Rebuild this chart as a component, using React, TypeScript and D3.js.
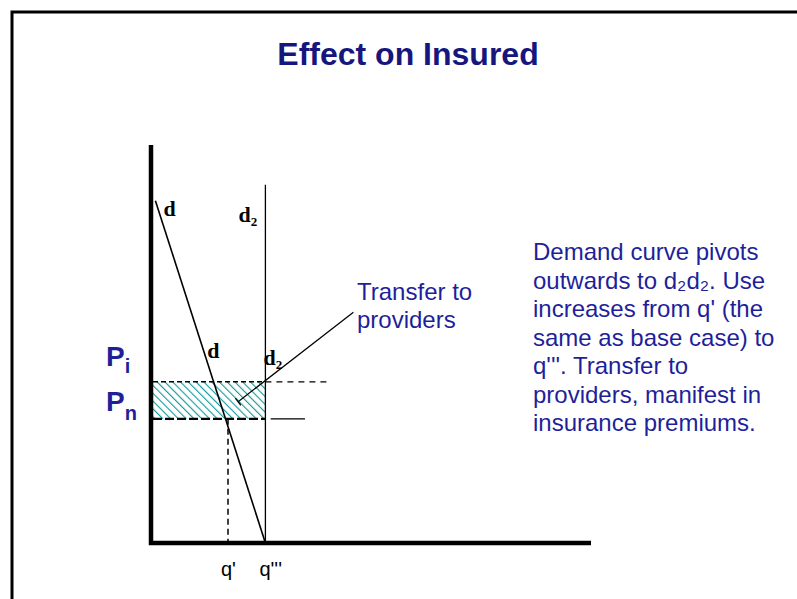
import React from 'react';
import * as d3 from 'd3';

// ---- diagram values (quantity / price units) ----
const title = 'Effect on Insured';
const noteLines = [
  'Demand curve pivots',
  'outwards to d\u2082d\u2082. Use',
  "increases from q' (the",
  'same as base case) to',
  "q'''.  Transfer to",
  'providers, manifest in',
  'insurance premiums.',
];
const transferLines = ['Transfer to', 'providers'];

const demandD = [
  { q: 0.1, p: 8.6 },
  { q: 2.6, p: 0 },
];
const demandD2 = [
  { q: 2.6, p: 9.0 },
  { q: 2.6, p: 0 },
];
const priceI = 4.05;
const priceN = 3.12;
const priceIExtendTo = 4.0;
const priceNSolid = [2.72, 3.5];
const quantities = [
  { label: "q'", q: 1.75 },
  { label: "q'''", q: 2.6 },
];
const arrowFrom = { q: 4.6, p: 5.8 };
const arrowTo = { q: 1.98, p: 3.55 };

const W = 797;
const H = 599;
const BLUE = '#1f1f9a';
const NAVY = '#16167e';
const TEAL = '#0f9a9a';

export default function App() {
  const x = d3.scaleLinear().domain([0, 10]).range([151, 591]);
  const y = d3.scaleLinear().domain([0, 10]).range([543, 145]);
  const line = d3
    .line<{ q: number; p: number }>()
    .x((d) => x(d.q))
    .y((d) => y(d.p));

  const x0 = x(0) + 2;
  const xR = x(demandD2[0].q);
  const yI = y(priceI);
  const yN = y(priceN);
  const r = 5;
  // shaded transfer box, rounded on the right
  const boxPath = `M${x0},${yI} L${xR - r},${yI} Q${xR},${yI} ${xR},${yI + r} L${xR},${yN - r} Q${xR},${yN} ${xR - r},${yN} L${x0},${yN} Z`;

  return (
    <svg
      width={W}
      height={H}
      style={{ position: 'absolute', left: 0, top: 0, background: '#fff' }}
    >
      <defs>
        <pattern
          id="hatch"
          patternUnits="userSpaceOnUse"
          width={5.5}
          height={5.5}
          patternTransform="rotate(-45)"
        >
          <line x1={0} y1={0} x2={0} y2={5.5} stroke={TEAL} strokeWidth={2.2} />
        </pattern>
        <marker
          id="tip"
          viewBox="0 0 10 10"
          refX={1}
          refY={5}
          markerWidth={9}
          markerHeight={9}
          orient="auto"
          markerUnits="userSpaceOnUse"
        >
          <path d="M1,0 L1,10" stroke="#000" strokeWidth={1.5} fill="none" />
        </marker>
      </defs>

      {/* frame */}
      <path d={`M12,${H} L12,12 L${W},12`} fill="none" stroke="#000" strokeWidth={3} />

      <text
        x={408}
        y={65}
        textAnchor="middle"
        fontFamily="Liberation Sans, Arial, sans-serif"
        fontWeight="bold"
        fontSize={32}
        fill={NAVY}
      >
        {title}
      </text>

      {/* shaded transfer */}
      <path d={boxPath} fill="url(#hatch)" stroke="none" />

      {/* price lines */}
      <line x1={x0} x2={xR} y1={yI} y2={yI} stroke="#000" strokeWidth={1.5} strokeDasharray="5,3" />
      <line
        x1={xR}
        x2={x(priceIExtendTo)}
        y1={yI}
        y2={yI}
        stroke="#000"
        strokeWidth={1.3}
        strokeDasharray="6,5"
      />
      <line x1={x0} x2={xR} y1={yN} y2={yN} stroke="#000" strokeWidth={2.2} strokeDasharray="9,3" />
      <line
        x1={x(priceNSolid[0])}
        x2={x(priceNSolid[1])}
        y1={yN}
        y2={yN}
        stroke="#000"
        strokeWidth={1.3}
      />

      {/* q' guide */}
      <line
        x1={x(quantities[0].q)}
        x2={x(quantities[0].q)}
        y1={yN}
        y2={y(0)}
        stroke="#000"
        strokeWidth={1.5}
        strokeDasharray="6,4"
      />

      {/* demand curves */}
      <path d={line(demandD) || ''} fill="none" stroke="#000" strokeWidth={1.6} />
      <path d={line(demandD2) || ''} fill="none" stroke="#000" strokeWidth={1.3} />

      {/* arrow */}
      <line
        x1={x(arrowFrom.q)}
        y1={y(arrowFrom.p)}
        x2={x(arrowTo.q)}
        y2={y(arrowTo.p)}
        stroke="#000"
        strokeWidth={1.2}
        markerEnd="url(#tip)"
      />

      {/* axes */}
      <path
        d={`M${x(0)},${y(10)} L${x(0)},${y(0)} L${x(10)},${y(0)}`}
        fill="none"
        stroke="#000"
        strokeWidth={4.5}
      />

      {/* curve labels */}
      <g fontFamily="Liberation Serif, Times New Roman, serif" fontWeight="bold" fontSize={22} fill="#000">
        <text x={x(demandD[0].q) + 8} y={y(demandD[0].p) + 15}>d</text>
        <text x={xR - 27} y={y(demandD2[0].p) + 37}>
          d<tspan fontSize={13} dy={4}>2</tspan>
        </text>
        <text x={x(1.28)} y={yI - 24}>d</text>
        <text x={xR - 2} y={yI - 17}>
          d<tspan fontSize={13} dy={4}>2</tspan>
        </text>
      </g>

      {/* price labels */}
      <g fontFamily="Liberation Sans, Arial, sans-serif" fontWeight="bold" fill={BLUE}>
        <text x={106} y={yI - 16} fontSize={28}>
          P<tspan fontSize={20} dy={7}>i</tspan>
        </text>
        <text x={106} y={yN - 8} fontSize={28}>
          P<tspan fontSize={20} dy={9}>n</tspan>
        </text>
      </g>

      {/* quantity labels */}
      <g fontFamily="Liberation Sans, Arial, sans-serif" fontSize={20} fill="#000">
        <text x={x(quantities[0].q) - 7} y={576}>{quantities[0].label}</text>
        <text x={x(quantities[1].q) - 6} y={576}>{quantities[1].label}</text>
      </g>

      {/* transfer label */}
      <g fontFamily="Liberation Sans, Arial, sans-serif" fontSize={24} fill={BLUE}>
        {transferLines.map((t, i) => (
          <text key={t} x={357} y={300 + i * 28}>
            {t}
          </text>
        ))}
      </g>

      {/* note */}
      <g fontFamily="Liberation Sans, Arial, sans-serif" fontSize={24} fill={BLUE}>
        {noteLines.map((t, i) => (
          <text key={t} x={533} y={260 + i * 28.5}>
            {t}
          </text>
        ))}
      </g>
    </svg>
  );
}
